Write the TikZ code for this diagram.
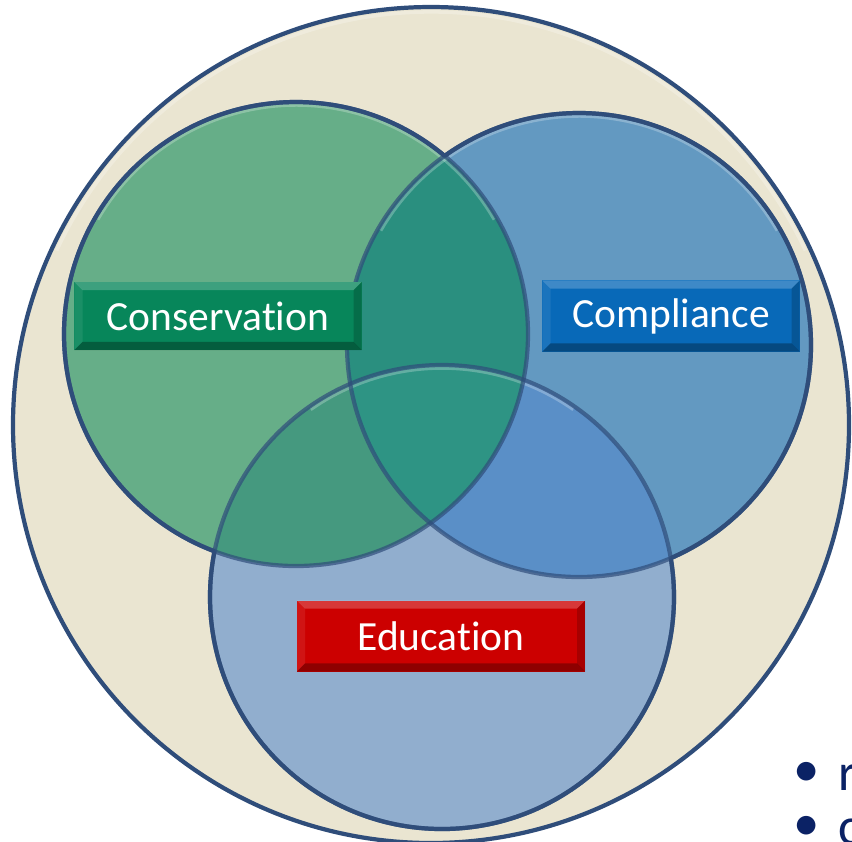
\documentclass[tikz,border=0pt]{standalone}
\usepackage{fontspec}
\setmainfont{Carlito}[Ligatures=NoCommon]
\usetikzlibrary{positioning}
\definecolor{ringfill}{HTML}{EAE5D1}
\definecolor{ringline}{HTML}{2F4D7A}
\definecolor{consfill}{HTML}{66AE88}
\definecolor{compfill}{HTML}{6399C1}
\definecolor{edufill}{HTML}{91AECE}
\definecolor{conscomp}{HTML}{2A8F7F}
\definecolor{consedu}{HTML}{45997F}
\definecolor{compedu}{HTML}{5A8FC7}
\definecolor{allthree}{HTML}{2E9484}
\definecolor{consbox}{HTML}{07865A}
\definecolor{compbox}{HTML}{0869B8}
\definecolor{edubox}{HTML}{CC0000}
\definecolor{bullettext}{HTML}{0B2265}
\tikzset{
    % Outline shared by every ring
    ring line/.style={draw=ringline, line width=1.2pt},
%
    % The same outline where it runs across another ring
    faint line/.style={ring line, draw opacity=.7},
%
    % A faint light rim along the top of a ring
    ring rim/.style={draw=white, opacity=.25, line width=1pt},
%
    % Bevelled label plate, coloured by its argument
    bevel box/.style={
        rectangle, fill=#1, text=white, inner sep=0pt,
        font=\fontsize{11.8}{14}\selectfont,
        path picture={
            \fill [white, opacity=.22]
                (path picture bounding box.north west) --
                (path picture bounding box.north east) --
                ([xshift=-2.3pt, yshift=-2.3pt]path picture bounding box.north east) --
                ([xshift=2.3pt, yshift=-2.3pt]path picture bounding box.north west) -- cycle;
            \fill [black, opacity=.3]
                (path picture bounding box.south west) --
                (path picture bounding box.south east) --
                ([xshift=-2.3pt, yshift=2.3pt]path picture bounding box.south east) --
                ([xshift=2.3pt, yshift=2.3pt]path picture bounding box.south west) -- cycle;
            \fill [black, opacity=.18]
                (path picture bounding box.north east) --
                (path picture bounding box.south east) --
                ([xshift=-2.3pt, yshift=2.3pt]path picture bounding box.south east) --
                ([xshift=-2.3pt, yshift=-2.3pt]path picture bounding box.north east) -- cycle;
            \fill [white, opacity=.08]
                (path picture bounding box.north west) --
                (path picture bounding box.south west) --
                ([xshift=2.3pt, yshift=2.3pt]path picture bounding box.south west) --
                ([xshift=2.3pt, yshift=-2.3pt]path picture bounding box.north west) -- cycle;
        }},
%
    % Bullet list text at the lower right
    list text/.style={text=bullettext, inner sep=0pt,
        font=\fontsize{15}{18}\selectfont}}

\begin{document}
\begin{tikzpicture}[x=0.01cm, y=-0.01cm]

\useasboundingbox (0,0) rectangle (852,841);

\coordinate (outer) at (431,425);
\coordinate (cons) at (296,334);
\coordinate (comp) at (579,345);
\coordinate (edu) at (442,597);

% the big ring
\fill [ringfill] (outer) circle (418);
\draw [ring rim] ([shift={(205:413)}]outer) arc [start angle=205, end angle=335, radius=413];
\draw [ring line] (outer) circle (418);

% the three sets
\fill [consfill] (cons) circle (232);
\fill [compfill] (comp) circle (232);
\fill [edufill] (edu) circle (232);

% the overlaps
\begin{scope}
    \clip (cons) circle (232);
    \fill [conscomp] (comp) circle (232);
    \fill [consedu] (edu) circle (232);
\end{scope}
\begin{scope}
    \clip (comp) circle (232);
    \fill [compedu] (edu) circle (232);
    \clip (cons) circle (232);
    \fill [allthree] (edu) circle (232);
\end{scope}

\draw [ring rim] ([shift={(210:229)}]cons) arc [start angle=210, end angle=330, radius=229];
\draw [ring rim] ([shift={(210:229)}]comp) arc [start angle=210, end angle=330, radius=229];
\draw [ring rim] ([shift={(235:229)}]edu) arc [start angle=235, end angle=305, radius=229];

% outlines: fainter across the other sets, dark on the ring
\draw [faint line] (cons) circle (232);
\draw [faint line] (comp) circle (232);
\draw [faint line] (edu) circle (232);
\begin{scope}[even odd rule]
    \clip (0,0) rectangle (852,841) (comp) circle (232);
    \clip (0,0) rectangle (852,841) (edu) circle (232);
    \draw [ring line] (cons) circle (232);
\end{scope}
\begin{scope}[even odd rule]
    \clip (0,0) rectangle (852,841) (cons) circle (232);
    \clip (0,0) rectangle (852,841) (edu) circle (232);
    \draw [ring line] (comp) circle (232);
\end{scope}
\begin{scope}[even odd rule]
    \clip (0,0) rectangle (852,841) (cons) circle (232);
    \clip (0,0) rectangle (852,841) (comp) circle (232);
    \draw [ring line] (edu) circle (232);
\end{scope}

% the labels
\node (conslabel) [bevel box=consbox, minimum width=2.87cm, minimum height=0.68cm]
    at (218,316) {Conservation};
\node (complabel) [bevel box=compbox, minimum width=2.57cm, minimum height=0.71cm]
    at (671,316) {Compliance};
\node (edulabel) [bevel box=edubox, minimum width=2.88cm, minimum height=0.71cm]
    at (441,636) {Education};

% the list, cut off by the edge
\node (bullet1) [list text] at (807,774) {\textbullet};
\node (item1) [list text, anchor=base west] at (838,790) {r};
\node (bullet2) [list text] at (807,828) {\textbullet};
\node (item2) [list text, anchor=base west] at (838,844) {c};

\end{tikzpicture}
\end{document}
